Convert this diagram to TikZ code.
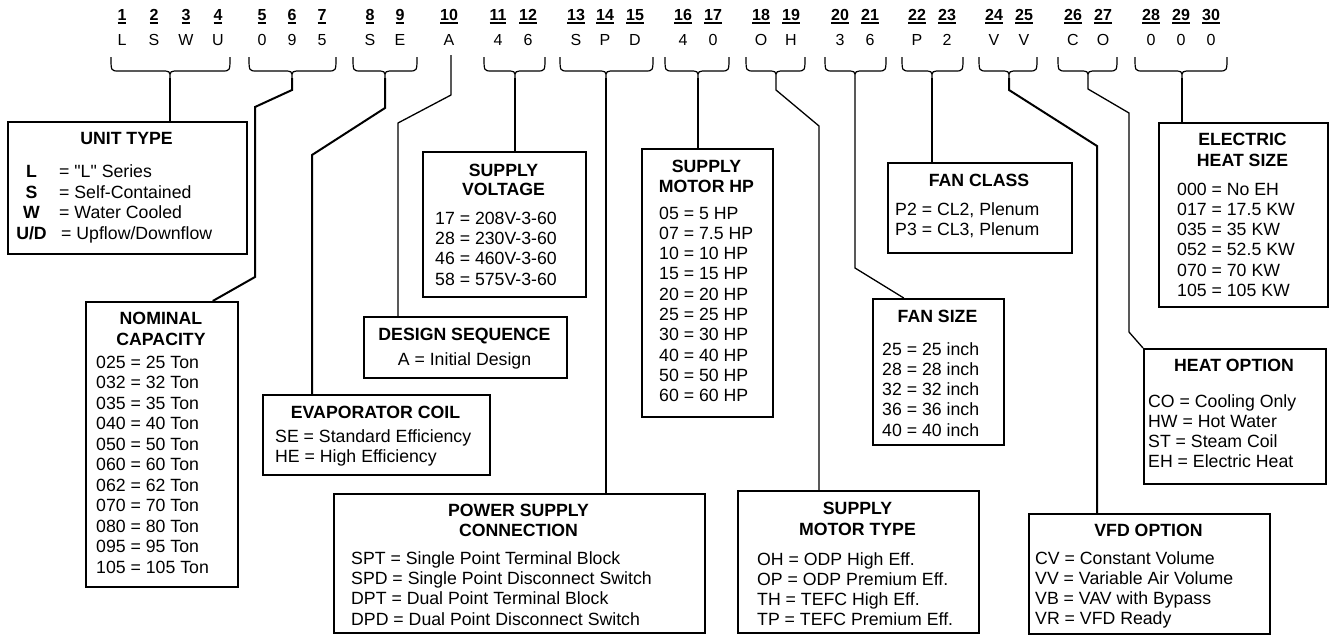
\documentclass[tikz,border=0pt]{standalone}
\usepackage{fontspec}
\setmainfont{Liberation Sans}[Ligatures=TeXOff]
\usetikzlibrary{positioning}

\newcommand\ulnum[1]{\setbox0=\hbox{#1}\rlap{\rule[-3.3pt]{\wd0}{2.1pt}}\box0}

\tikzset{
  codebox/.style={draw, line width=1.5pt, inner sep=0pt, anchor=north west},
  boxtitle/.style={font=\fontsize{17.7}{20}\selectfont\bfseries, inner sep=0pt, anchor=base},
  boxkey/.style={font=\fontsize{17.7}{20}\selectfont\bfseries, inner sep=0pt, anchor=base},
  boxline/.style={font=\fontsize{17.7}{20}\selectfont, inner sep=0pt, anchor=base west},
  posnum/.style={font=\fontsize{16}{18}\selectfont\bfseries, inner sep=0pt, anchor=base},
  poschar/.style={font=\fontsize{16}{18}\selectfont, inner sep=0pt, anchor=base},
  brace/.style={line width=1.2pt},
  link/.style={line width=2pt},
  thinlink/.style={line width=1.3pt}
}

\begin{document}
\begin{tikzpicture}[x=1pt,y=-1pt]
  \useasboundingbox (0,0) rectangle (1330,635);

  % model number positions
  \foreach \x/\n/\c in {122/1/L,154/2/S,186/3/W,218/4/U,262/5/0,292/6/9,322/7/5,
      370/8/S,400/9/E,449/10/A,498/11/4,528/12/6,576/13/S,605/14/P,635/15/D,
      683/16/4,713/17/0,761/18/O,791/19/H,840/20/3,870/21/6,917/22/P,947/23/2,
      994/24/V,1024/25/V,1073/26/C,1103/27/O,1151/28/0,1181/29/0,1211/30/0}{
    \node[posnum] (n\n) at (\x,20.7) {\ulnum{\n}};
    \node[poschar] (c\n) at (\x,45) {\c};
  }

  % braces
  \foreach \a/\b/\m/\g in {111/230/170/g1,249/336/292/g2,353/417/385/g3,484/545/515/g5,
      560/653/606/g6,665/729/698/g7,746/805/776/g8,825/886/855/g9,902/963/932/g10,
      979/1037/1009/g11,1058/1117/1088/g12,1135/1227/1182/g13}{
    \draw[brace] (\a,57) .. controls (\a,71) .. (\a+8,71) -- (\m-9,71)
      .. controls (\m,71) .. (\m,78) .. controls (\m,71) .. (\m+9,71)
      -- (\b-8,71) .. controls (\b,71) .. (\b,57);
    \coordinate (\g) at (\m,78);
  }
  \coordinate (g4) at (451,55);

  % unit type
  \node[codebox, minimum width=239, minimum height=132] (unit) at (7,121) {};
  \node[boxtitle] (unit-t) at (126.5,144.3) {UNIT TYPE};
  \node[boxkey] (unit-k1) at (31.5,177.7) {L};
  \node[boxkey] (unit-k2) at (31.5,198.3) {S};
  \node[boxkey] (unit-k3) at (31.5,218.9) {W};
  \node[boxkey] (unit-k4) at (31.5,239.5) {U/D};
  \node[boxline] (unit-v1) at (59,177.7) {= "L" Series};
  \node[boxline] (unit-v2) at (59,198.3) {= Self-Contained};
  \node[boxline] (unit-v3) at (59,218.9) {= Water Cooled};
  \node[boxline] (unit-v4) at (61,239.5) {= Upflow/Downflow};

  % nominal capacity
  \node[codebox, minimum width=152, minimum height=285] (cap) at (85,301) {};
  \node[boxtitle] (cap-t1) at (161,324.3) {NOMINAL};
  \node[boxtitle] (cap-t2) at (161,345.7) {CAPACITY};
  \foreach \t [count=\i from 0] in {025 = 25 Ton,032 = 32 Ton,035 = 35 Ton,040 = 40 Ton,
      050 = 50 Ton,060 = 60 Ton,062 = 62 Ton,070 = 70 Ton,080 = 80 Ton,095 = 95 Ton,105 = 105 Ton}
    \node[boxline] (cap-\i) at (96,{368.3+20.5*\i}) {\t};

  % evaporator coil
  \node[codebox, minimum width=227, minimum height=80] (evap) at (262,394) {};
  \node[boxtitle] (evap-t) at (375.5,418.3) {EVAPORATOR COIL};
  \node[boxline] (evap-1) at (275,442.7) {SE = Standard Efficiency};
  \node[boxline] (evap-2) at (275,462.7) {HE = High Efficiency};

  % design sequence
  \node[codebox, minimum width=203, minimum height=61] (design) at (363,316) {};
  \node[boxtitle] (design-t) at (464.5,340) {DESIGN SEQUENCE};
  \node[boxline, anchor=base] (design-1) at (464.5,365.7) {A = Initial Design};

  % supply voltage
  \node[codebox, minimum width=163, minimum height=145] (volt) at (422,151) {};
  \node[boxtitle] (volt-t1) at (503.5,176) {SUPPLY};
  \node[boxtitle] (volt-t2) at (503.5,195.7) {VOLTAGE};
  \foreach \t [count=\i from 0] in {17 = 208V-3-60,28 = 230V-3-60,46 = 460V-3-60,58 = 575V-3-60}
    \node[boxline] (volt-\i) at (435,{224.3+20.3*\i}) {\t};

  % power supply connection
  \node[codebox, minimum width=371, minimum height=139] (power) at (333,493) {};
  \node[boxtitle] (power-t1) at (518.5,516) {POWER SUPPLY};
  \node[boxtitle] (power-t2) at (518.5,536.7) {CONNECTION};
  \foreach \t [count=\i from 0] in {SPT = Single Point Terminal Block,SPD = Single Point Disconnect Switch,
      DPT = Dual Point Terminal Block,DPD = Dual Point Disconnect Switch}
    \node[boxline] (power-\i) at (351,{564.3+20.3*\i}) {\t};

  % supply motor hp
  \node[codebox, minimum width=131, minimum height=268] (mhp) at (641,148) {};
  \node[boxtitle] (mhp-t1) at (706.5,172.7) {SUPPLY};
  \node[boxtitle] (mhp-t2) at (706.5,192.7) {MOTOR HP};
  \foreach \t [count=\i from 0] in {05 = 5 HP,07 = 7.5 HP,10 = 10 HP,15 = 15 HP,20 = 20 HP,
      25 = 25 HP,30 = 30 HP,40 = 40 HP,50 = 50 HP,60 = 60 HP}
    \node[boxline] (mhp-\i) at (659,{219+20.3*\i}) {\t};

  % supply motor type
  \node[codebox, minimum width=241, minimum height=142] (mtype) at (737,490) {};
  \node[boxtitle] (mtype-t1) at (857.5,514.3) {SUPPLY};
  \node[boxtitle] (mtype-t2) at (857.5,535) {MOTOR TYPE};
  \foreach \t [count=\i from 0] in {OH = ODP High Eff.,OP = ODP Premium Eff.,
      TH = TEFC High Eff.,TP = TEFC Premium Eff.}
    \node[boxline] (mtype-\i) at (757,{565+20.3*\i}) {\t};

  % fan size
  \node[codebox, minimum width=131, minimum height=146] (fsize) at (872,298) {};
  \node[boxtitle] (fsize-t) at (937.5,322.3) {FAN SIZE};
  \foreach \t [count=\i from 0] in {25 = 25 inch,28 = 28 inch,32 = 32 inch,36 = 36 inch,40 = 40 inch}
    \node[boxline] (fsize-\i) at (882,{355+20.3*\i}) {\t};

  % fan class
  \node[codebox, minimum width=184, minimum height=90] (fclass) at (887,162) {};
  \node[boxtitle] (fclass-t) at (979,186.7) {FAN CLASS};
  \node[boxline] (fclass-1) at (895,215.7) {P2 = CL2, Plenum};
  \node[boxline] (fclass-2) at (895,235.7) {P3 = CL3, Plenum};

  % electric heat size
  \node[codebox, minimum width=169, minimum height=184] (elec) at (1158,122) {};
  \node[boxtitle] (elec-t1) at (1242.5,145) {ELECTRIC};
  \node[boxtitle] (elec-t2) at (1242.5,166) {HEAT SIZE};
  \foreach \t [count=\i from 0] in {000 = No EH,017 = 17.5 KW,035 = 35 KW,052 = 52.5 KW,
      070 = 70 KW,105 = 105 KW}
    \node[boxline] (elec-\i) at (1177,{195+20.3*\i}) {\t};

  % heat option
  \node[codebox, minimum width=182, minimum height=135] (heat) at (1143,348) {};
  \node[boxtitle] (heat-t) at (1234,371.7) {HEAT OPTION};
  \foreach \t [count=\i from 0] in {CO = Cooling Only,HW = Hot Water,ST = Steam Coil,EH = Electric Heat}
    \node[boxline] (heat-\i) at (1148,{407.3+20*\i}) {\t};

  % vfd option
  \node[codebox, minimum width=241, minimum height=120] (vfd) at (1028,513) {};
  \node[boxtitle] (vfd-t) at (1148.5,536.7) {VFD OPTION};
  \foreach \t [count=\i from 0] in {CV = Constant Volume,VV = Variable Air Volume,
      VB = VAV with Bypass,VR = VFD Ready}
    \node[boxline] (vfd-\i) at (1035,{564+20*\i}) {\t};

  % connectors
  \coordinate (cap-b1) at (292,90);
  \coordinate (cap-b2) at (255,107);
  \coordinate (cap-b3) at (255,277);
  \coordinate (evap-b1) at (385,108);
  \coordinate (evap-b2) at (312,155);
  \coordinate (design-b1) at (451,95);
  \coordinate (design-b2) at (398,123);
  \coordinate (mtype-b1) at (776,90);
  \coordinate (mtype-b2) at (819,126);
  \coordinate (fsize-b1) at (855,268);
  \coordinate (vfd-b1) at (1009,90);
  \coordinate (vfd-b2) at (1097,146);
  \coordinate (heat-b1) at (1088,89);
  \coordinate (heat-b2) at (1129,113);
  \coordinate (heat-b3) at (1129,332);

  \draw[link] (g1) -- (g1 |- unit.north);
  \draw[link] (g2) -- (cap-b1) -- (cap-b2) -- (cap-b3) -- ([xshift=51]cap.north);
  \draw[link] (g3) -- (evap-b1) -- (evap-b2) -- (evap-b2 |- evap.north);
  \draw[thinlink] (g4) -- (design-b1) -- (design-b2) -- (design-b2 |- design.north);
  \draw[link] (g5) -- (g5 |- volt.north);
  \draw[thinlink] (g6) -- (g6 |- power.north);
  \draw[link] (g7) -- (g7 |- mhp.north);
  \draw[thinlink] (g8) -- (mtype-b1) -- (mtype-b2) -- (mtype-b2 |- mtype.north);
  \draw[thinlink] (g9) -- (fsize-b1) -- ([xshift=-34.5]fsize.north);
  \draw[link] (g10) -- (g10 |- fclass.north);
  \draw[link] (g11) -- (vfd-b1) -- (vfd-b2) -- (vfd-b2 |- vfd.north);
  \draw[thinlink] (g12) -- (heat-b1) -- (heat-b2) -- (heat-b3) -- (heat.north west);
  \draw[link] (g13) -- (g13 |- elec.north);
\end{tikzpicture}
\end{document}
